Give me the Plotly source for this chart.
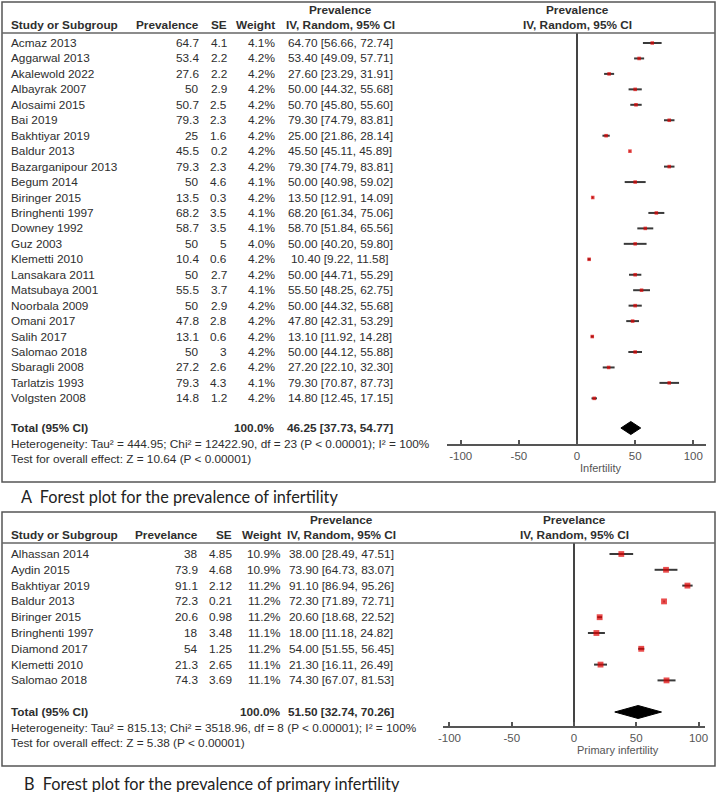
import plotly.graph_objects as go

# ---------------- Data: panel A (infertility) ----------------
studies_a = ["Acmaz 2013", "Aggarwal 2013", "Akalewold 2022", "Albayrak 2007", "Alosaimi 2015",
             "Bai 2019", "Bakhtiyar 2019", "Baldur 2013", "Bazarganipour 2013", "Begum 2014",
             "Biringer 2015", "Bringhenti 1997", "Downey 1992", "Guz 2003", "Klemetti 2010",
             "Lansakara 2011", "Matsubaya 2001", "Noorbala 2009", "Omani 2017", "Salih 2017",
             "Salomao 2018", "Sbaragli 2008", "Tarlatzis 1993", "Volgsten 2008"]
prev_a = [64.7, 53.4, 27.6, 50, 50.7, 79.3, 25, 45.5, 79.3, 50, 13.5, 68.2, 58.7, 50, 10.4,
          50, 55.5, 50, 47.8, 13.1, 50, 27.2, 79.3, 14.8]
se_a = [4.1, 2.2, 2.2, 2.9, 2.5, 2.3, 1.6, 0.2, 2.3, 4.6, 0.3, 3.5, 3.5, 5, 0.6,
        2.7, 3.7, 2.9, 2.8, 0.6, 3, 2.6, 4.3, 1.2]
weight_a = [4.1, 4.2, 4.2, 4.2, 4.2, 4.2, 4.2, 4.2, 4.2, 4.1, 4.2, 4.1, 4.1, 4.0, 4.2,
            4.2, 4.1, 4.2, 4.2, 4.2, 4.2, 4.2, 4.1, 4.2]
lo_a = [56.66, 49.09, 23.29, 44.32, 45.80, 74.79, 21.86, 45.11, 74.79, 40.98, 12.91, 61.34,
        51.84, 40.20, 9.22, 44.71, 48.25, 44.32, 42.31, 11.92, 44.12, 22.10, 70.87, 12.45]
hi_a = [72.74, 57.71, 31.91, 55.68, 55.60, 83.81, 28.14, 45.89, 83.81, 59.02, 14.09, 75.06,
        65.56, 59.80, 11.58, 55.29, 62.75, 55.68, 53.29, 14.28, 55.88, 32.30, 87.73, 17.15]
total_a = [46.25, 37.73, 54.77]
het_a = "Heterogeneity: Tau² = 444.95; Chi² = 12422.90, df = 23 (P < 0.00001); I² = 100%"
test_a = "Test for overall effect: Z = 10.64 (P < 0.00001)"

# ---------------- Data: panel B (primary infertility) ----------------
studies_b = ["Alhassan 2014", "Aydin 2015", "Bakhtiyar 2019", "Baldur 2013", "Biringer 2015",
             "Bringhenti 1997", "Diamond 2017", "Klemetti 2010", "Salomao 2018"]
prev_b = [38, 73.9, 91.1, 72.3, 20.6, 18, 54, 21.3, 74.3]
se_b = [4.85, 4.68, 2.12, 0.21, 0.98, 3.48, 1.25, 2.65, 3.69]
weight_b = [10.9, 10.9, 11.2, 11.2, 11.2, 11.1, 11.2, 11.1, 11.1]
lo_b = [28.49, 64.73, 86.94, 71.89, 18.68, 11.18, 51.55, 16.11, 67.07]
hi_b = [47.51, 83.07, 95.26, 72.71, 22.52, 24.82, 56.45, 26.49, 81.53]
total_b = [51.50, 32.74, 70.26]
het_b = "Heterogeneity: Tau² = 815.13; Chi² = 3518.96, df = 8 (P < 0.00001); I² = 100%"
test_b = "Test for overall effect: Z = 5.38 (P < 0.00001)"

tick_vals = [-100, -50, 0, 50, 100]
tick_text = ["-100", "-50", "0", "50", "100"]

W, H = 718, 792
TXT = "#2e2e2e"
FONT = "Arial"
FS = 11.8


def px(x):
    return x / W


def py(y):
    return 1 - y / H


annotations = []
shapes = []


def txt(x, y, s, anchor="left", bold=False, size=FS, color=TXT, family=FONT):
    if bold:
        s = "<b>" + s + "</b>"
    annotations.append(dict(x=px(x), y=py(y), xref="paper", yref="paper", text=s,
                            showarrow=False, xanchor=anchor, yanchor="middle",
                            borderpad=0, borderwidth=0,
                            font=dict(family=family, size=size, color=color)))


def rect(x0, y0, x1, y1, color="#555555", width=1.5):
    shapes.append(dict(type="rect", xref="paper", yref="paper", x0=px(x0), x1=px(x1),
                       y0=py(y1), y1=py(y0), line=dict(color=color, width=width)))


def hline(x0, x1, y, color="#666666", width=1.5):
    shapes.append(dict(type="line", xref="paper", yref="paper", x0=px(x0), x1=px(x1),
                       y0=py(y), y1=py(y), line=dict(color=color, width=width)))


def fmt_ci(e, l, h):
    return f"{e:.2f} [{l:.2f}, {h:.2f}]"


fig = go.Figure()


def panel(cfg):
    top, head_line, row0, step = cfg["top"], cfg["head_line"], cfg["row0"], cfg["step"]
    axis_y, bottom = cfg["axis_y"], cfg["bottom"]
    cols = cfg["cols"]
    # frame
    rect(2, top, 715, bottom)
    hline(2, 715, head_line)
    # headers
    h1, h2 = head_line - 23, head_line - 8
    txt(11, h2, "Study or Subgroup", bold=True)
    txt(cols["prev"], h2, cfg["prev_label"], anchor="right", bold=True)
    txt(cols["se"], h2, "SE", anchor="right", bold=True)
    txt(cols["w"], h2, "Weight", anchor="right", bold=True)
    txt(cols["ci"], h1, cfg["prev_label"], anchor="center", bold=True)
    txt(cols["ci"], h2, "IV, Random, 95% CI", anchor="center", bold=True)
    txt(cfg["zero_px"], h1, cfg["prev_label"], anchor="center", bold=True)
    txt(cfg["zero_px"], h2, "IV, Random, 95% CI", anchor="center", bold=True)
    # rows
    ys = []
    for i, name in enumerate(cfg["names"]):
        y = row0 + step * i
        ys.append(y)
        txt(11, y, name)
        txt(cols["prev"], y, f"{cfg['prev'][i]:g}", anchor="right")
        txt(cols["se"], y, f"{cfg['se'][i]:g}", anchor="right")
        txt(cols["w"], y, f"{cfg['w'][i]:.1f}%", anchor="right")
        txt(cols["ci"], y, fmt_ci(cfg["prev"][i], cfg["lo"][i], cfg["hi"][i]), anchor="center")
    ty = cfg["total_y"]
    txt(11, ty, "Total (95% CI)", bold=True)
    txt(cols["w"], ty, "100.0%", anchor="right", bold=True)
    e, l, h = cfg["total"]
    txt(cols["ci"], ty, fmt_ci(e, l, h), anchor="center", bold=True)
    txt(11, ty + 15.5, cfg["het"])
    txt(11, ty + 31, cfg["test"])
    txt(cfg["zero_px"] + 3, axis_y + 23.5, cfg["xlabel"], anchor="left", size=11, color="#555555")

    xa, ya = cfg["xa"], cfg["ya"]
    # studies
    fig.add_trace(go.Scatter(
        x=cfg["prev"], y=ys, mode="markers", xaxis=xa, yaxis=ya, showlegend=False,
        marker=dict(symbol="square", color="#e00000",
                    size=[1.75 * (w ** 0.5) for w in cfg["w"]], line=dict(width=0)),
        error_x=dict(type="data", symmetric=False,
                     array=[h_ - p for h_, p in zip(cfg["hi"], cfg["prev"])],
                     arrayminus=[p - l_ for l_, p in zip(cfg["lo"], cfg["prev"])],
                     color="#3a3a3a", thickness=2, width=0)))
    # diamond
    fig.add_trace(go.Scatter(
        x=[l, e, h, e, l], y=[ty, ty - 6.5, ty, ty + 6.5, ty], mode="lines",
        fill="toself", fillcolor="black", line=dict(color="black", width=1),
        xaxis=xa, yaxis=ya, showlegend=False, hoverinfo="skip"))


panel(dict(top=2, head_line=33, row0=43, step=15.45, axis_y=444, bottom=482,
           cols=dict(prev=199, se=227, w=275, ci=340), prev_label="Prevalence",
           zero_px=577, names=studies_a, prev=prev_a, se=se_a, w=weight_a, lo=lo_a, hi=hi_a,
           total=total_a, total_y=428, het=het_a, test=test_a, xlabel="Infertility",
           xa="x", ya="y"))
panel(dict(top=512, head_line=543, row0=554, step=15.8, axis_y=726, bottom=766,
           cols=dict(prev=198, se=232, w=281, ci=341), prev_label="Prevelance",
           zero_px=574, names=studies_b, prev=prev_b, se=se_b, w=weight_b, lo=lo_b, hi=hi_b,
           total=total_b, total_y=712, het=het_b, test=test_b, xlabel="Primary infertility",
           xa="x2", ya="y2"))

# captions
txt(21, 496, "A  Forest plot for the prevalence of infertility", size=16.3, color="#222222",
    family="Lato")
txt(24, 783, "B  Forest plot for the prevalence of primary infertility", size=16.3,
    color="#222222", family="Lato")

axis_common = dict(showgrid=False, zeroline=True, zerolinecolor="#444444", zerolinewidth=1.5,
                   showline=True, linecolor="#555555", linewidth=1.5, ticks="inside",
                   ticklen=4, tickwidth=1.5, tickcolor="#555555", tickvals=tick_vals,
                   ticktext=tick_text, tickfont=dict(family=FONT, size=11.5, color="#555555"),
                   fixedrange=True, automargin=False)

fig.update_layout(
    width=W, height=H, margin=dict(l=0, r=0, t=0, b=0, pad=0), autosize=False,
    paper_bgcolor="white", plot_bgcolor="rgba(0,0,0,0)",
    xaxis=dict(domain=[px(447), px(706)], range=[-111.8, 110.9], anchor="y", **axis_common),
    yaxis=dict(domain=[py(444), py(33)], range=[444, 33], visible=False, fixedrange=True,
               automargin=False),
    xaxis2=dict(domain=[px(443), px(705)], range=[-105.2, 105.2], anchor="y2", **axis_common),
    yaxis2=dict(domain=[py(726), py(543)], range=[726, 543], visible=False, fixedrange=True,
                automargin=False),
    annotations=annotations, shapes=shapes,
)

fig.write_html("out.html", config={"displayModeBar": False},
               post_script="document.body.style.margin='0';"
                           "document.body.style.overflow='hidden';")
